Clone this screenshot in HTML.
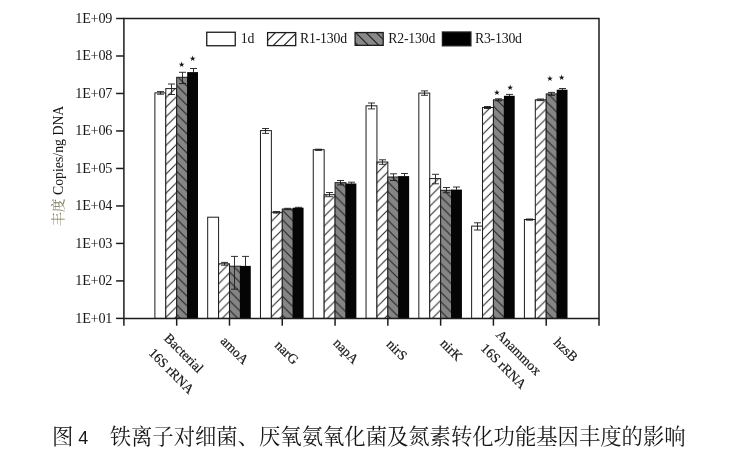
<!DOCTYPE html>
<html lang="zh-CN">
<head>
<meta charset="utf-8">
<title>图 4 铁离子对细菌、厌氧氨氧化菌及氮素转化功能基因丰度的影响</title>
<style>
html,body{margin:0;padding:0;background:#fff;}
body{width:735px;height:452px;overflow:hidden;position:relative;font-family:"Liberation Serif","Noto Serif CJK SC",serif;}
svg{position:absolute;left:0;top:0;display:block;will-change:transform;}
.t{font-family:"Liberation Serif","Noto Serif CJK SC",serif;font-size:13px;fill:#161616;}
.xl{stroke:#161616;stroke-width:0.2px;}
.cap{will-change:transform;position:absolute;left:52px;top:422.2px;height:31px;line-height:31px;font-size:21.33px;color:#161616;white-space:nowrap;font-family:"Liberation Serif","Noto Serif CJK SC",serif;}
.cap .n{font-family:"Liberation Sans","Noto Sans CJK SC",sans-serif;font-size:18px;}
</style>
</head>
<body>
<svg width="735" height="452" viewBox="0 0 735 452">
<defs>
<pattern id="h1" patternUnits="userSpaceOnUse" width="9.55" height="9.55" patternTransform="translate(5.81,0)">
<rect width="9.55" height="9.55" fill="#fff"/>
<path d="M-2,11.55 L11.55,-2 M-2,2 L2,-2 M7.55,11.55 L11.55,7.55" stroke="#2a2a2a" stroke-width="1.1" fill="none"/>
</pattern>
<pattern id="h2" patternUnits="userSpaceOnUse" width="9.55" height="9.55" patternTransform="translate(5.36,0)">
<rect width="9.55" height="9.55" fill="#858585"/>
<path d="M-2,-2 L11.55,11.55 M7.55,-2 L11.55,2 M-2,7.55 L2,11.55" stroke="#242424" stroke-width="1.1" fill="none"/>
</pattern>
</defs>

<rect x="154.89" y="92.90" width="10.90" height="225.50" fill="#fff" stroke="#1c1c1c" stroke-width="1"/>
<rect x="165.79" y="88.60" width="10.90" height="229.80" fill="url(#h1)" stroke="#1c1c1c" stroke-width="1"/>
<rect x="176.69" y="77.30" width="10.90" height="241.10" fill="url(#h2)" stroke="#1c1c1c" stroke-width="1"/>
<rect x="187.19" y="72.10" width="10.80" height="246.30" fill="#050505"/>
<path d="M160.50,91.60 V94.20 M157.00,91.60 H164.00 M157.00,94.20 H164.00" stroke="#1c1c1c" stroke-width="0.9" fill="none"/>
<path d="M171.50,84.00 V94.50 M168.00,84.00 H175.00 M168.00,94.50 H175.00" stroke="#1c1c1c" stroke-width="0.9" fill="none"/>
<path d="M182.50,72.30 V83.60 M179.00,72.30 H186.00 M179.00,83.60 H186.00" stroke="#1c1c1c" stroke-width="0.9" fill="none"/>
<path d="M193.50,68.50 V72.40 M190.00,68.50 H197.00" stroke="#1c1c1c" stroke-width="0.9" fill="none"/>
<rect x="207.68" y="217.20" width="10.90" height="101.20" fill="#fff" stroke="#1c1c1c" stroke-width="1"/>
<rect x="218.58" y="263.80" width="10.90" height="54.60" fill="url(#h1)" stroke="#1c1c1c" stroke-width="1"/>
<rect x="229.48" y="266.20" width="10.90" height="52.20" fill="url(#h2)" stroke="#1c1c1c" stroke-width="1"/>
<rect x="239.98" y="265.90" width="10.80" height="52.50" fill="#050505"/>
<path d="M224.50,262.40 V265.20 M221.00,262.40 H228.00 M221.00,265.20 H228.00" stroke="#1c1c1c" stroke-width="0.9" fill="none"/>
<path d="M234.50,256.40 V289.20 M231.00,256.40 H238.00 M231.00,289.20 H238.00" stroke="#1c1c1c" stroke-width="0.9" fill="none"/>
<path d="M245.50,256.40 V266.20 M242.00,256.40 H249.00" stroke="#1c1c1c" stroke-width="0.9" fill="none"/>
<rect x="260.47" y="130.60" width="10.90" height="187.80" fill="#fff" stroke="#1c1c1c" stroke-width="1"/>
<rect x="271.37" y="212.30" width="10.90" height="106.10" fill="url(#h1)" stroke="#1c1c1c" stroke-width="1"/>
<rect x="282.27" y="209.00" width="10.90" height="109.40" fill="url(#h2)" stroke="#1c1c1c" stroke-width="1"/>
<rect x="292.77" y="207.70" width="10.80" height="110.70" fill="#050505"/>
<path d="M265.50,128.50 V133.40 M262.00,128.50 H269.00 M262.00,133.40 H269.00" stroke="#1c1c1c" stroke-width="0.9" fill="none"/>
<path d="M276.50,211.50 V213.10 M273.00,211.50 H280.00 M273.00,213.10 H280.00" stroke="#1c1c1c" stroke-width="0.9" fill="none"/>
<path d="M287.50,208.30 V209.70 M284.00,208.30 H291.00 M284.00,209.70 H291.00" stroke="#1c1c1c" stroke-width="0.9" fill="none"/>
<path d="M298.50,207.30 V208.00 M295.00,207.30 H302.00" stroke="#1c1c1c" stroke-width="0.9" fill="none"/>
<rect x="313.26" y="149.70" width="10.90" height="168.70" fill="#fff" stroke="#1c1c1c" stroke-width="1"/>
<rect x="324.16" y="194.70" width="10.90" height="123.70" fill="url(#h1)" stroke="#1c1c1c" stroke-width="1"/>
<rect x="335.06" y="182.70" width="10.90" height="135.70" fill="url(#h2)" stroke="#1c1c1c" stroke-width="1"/>
<rect x="345.56" y="183.50" width="10.80" height="134.90" fill="#050505"/>
<path d="M318.50,149.20 V150.40 M315.00,149.20 H322.00 M315.00,150.40 H322.00" stroke="#1c1c1c" stroke-width="0.9" fill="none"/>
<path d="M329.50,192.50 V196.70 M326.00,192.50 H333.00 M326.00,196.70 H333.00" stroke="#1c1c1c" stroke-width="0.9" fill="none"/>
<path d="M340.50,180.50 V184.90 M337.00,180.50 H344.00 M337.00,184.90 H344.00" stroke="#1c1c1c" stroke-width="0.9" fill="none"/>
<path d="M351.50,182.20 V183.80 M348.00,182.20 H355.00" stroke="#1c1c1c" stroke-width="0.9" fill="none"/>
<rect x="366.04" y="105.80" width="10.90" height="212.60" fill="#fff" stroke="#1c1c1c" stroke-width="1"/>
<rect x="376.94" y="162.00" width="10.90" height="156.40" fill="url(#h1)" stroke="#1c1c1c" stroke-width="1"/>
<rect x="387.84" y="177.00" width="10.90" height="141.40" fill="url(#h2)" stroke="#1c1c1c" stroke-width="1"/>
<rect x="398.34" y="176.10" width="10.80" height="142.30" fill="#050505"/>
<path d="M371.50,103.00 V108.90 M368.00,103.00 H375.00 M368.00,108.90 H375.00" stroke="#1c1c1c" stroke-width="0.9" fill="none"/>
<path d="M382.50,159.80 V164.30 M379.00,159.80 H386.00 M379.00,164.30 H386.00" stroke="#1c1c1c" stroke-width="0.9" fill="none"/>
<path d="M393.50,173.80 V180.50 M390.00,173.80 H397.00 M390.00,180.50 H397.00" stroke="#1c1c1c" stroke-width="0.9" fill="none"/>
<path d="M404.50,173.50 V176.40 M401.00,173.50 H408.00" stroke="#1c1c1c" stroke-width="0.9" fill="none"/>
<rect x="418.83" y="93.10" width="10.90" height="225.30" fill="#fff" stroke="#1c1c1c" stroke-width="1"/>
<rect x="429.73" y="178.60" width="10.90" height="139.80" fill="url(#h1)" stroke="#1c1c1c" stroke-width="1"/>
<rect x="440.63" y="190.30" width="10.90" height="128.10" fill="url(#h2)" stroke="#1c1c1c" stroke-width="1"/>
<rect x="451.13" y="189.60" width="10.80" height="128.80" fill="#050505"/>
<path d="M424.50,90.90 V95.30 M421.00,90.90 H428.00 M421.00,95.30 H428.00" stroke="#1c1c1c" stroke-width="0.9" fill="none"/>
<path d="M435.50,174.30 V183.80 M432.00,174.30 H439.00 M432.00,183.80 H439.00" stroke="#1c1c1c" stroke-width="0.9" fill="none"/>
<path d="M446.50,187.50 V192.70 M443.00,187.50 H450.00 M443.00,192.70 H450.00" stroke="#1c1c1c" stroke-width="0.9" fill="none"/>
<path d="M456.50,187.00 V189.90 M453.00,187.00 H460.00" stroke="#1c1c1c" stroke-width="0.9" fill="none"/>
<rect x="471.62" y="226.10" width="10.90" height="92.30" fill="#fff" stroke="#1c1c1c" stroke-width="1"/>
<rect x="482.52" y="107.50" width="10.90" height="210.90" fill="url(#h1)" stroke="#1c1c1c" stroke-width="1"/>
<rect x="493.42" y="99.80" width="10.90" height="218.60" fill="url(#h2)" stroke="#1c1c1c" stroke-width="1"/>
<rect x="503.92" y="95.80" width="10.80" height="222.60" fill="#050505"/>
<path d="M477.50,222.80 V230.00 M474.00,222.80 H481.00 M474.00,230.00 H481.00" stroke="#1c1c1c" stroke-width="0.9" fill="none"/>
<path d="M487.50,106.50 V108.50 M484.00,106.50 H491.00 M484.00,108.50 H491.00" stroke="#1c1c1c" stroke-width="0.9" fill="none"/>
<path d="M498.50,98.80 V100.80 M495.00,98.80 H502.00 M495.00,100.80 H502.00" stroke="#1c1c1c" stroke-width="0.9" fill="none"/>
<path d="M509.50,94.40 V96.10 M506.00,94.40 H513.00" stroke="#1c1c1c" stroke-width="0.9" fill="none"/>
<rect x="524.41" y="219.50" width="10.90" height="98.90" fill="#fff" stroke="#1c1c1c" stroke-width="1"/>
<rect x="535.31" y="99.80" width="10.90" height="218.60" fill="url(#h1)" stroke="#1c1c1c" stroke-width="1"/>
<rect x="546.21" y="93.90" width="10.90" height="224.50" fill="url(#h2)" stroke="#1c1c1c" stroke-width="1"/>
<rect x="556.71" y="89.70" width="10.80" height="228.70" fill="#050505"/>
<path d="M529.50,219.00 V220.20 M526.00,219.00 H533.00 M526.00,220.20 H533.00" stroke="#1c1c1c" stroke-width="0.9" fill="none"/>
<path d="M540.50,99.00 V100.60 M537.00,99.00 H544.00 M537.00,100.60 H544.00" stroke="#1c1c1c" stroke-width="0.9" fill="none"/>
<path d="M551.50,92.40 V95.40 M548.00,92.40 H555.00 M548.00,95.40 H555.00" stroke="#1c1c1c" stroke-width="0.9" fill="none"/>
<path d="M562.50,88.50 V90.00 M559.00,88.50 H566.00" stroke="#1c1c1c" stroke-width="0.9" fill="none"/>
<path d="M123.90,18.50 H599.00 V318.40 H123.90 Z" fill="none" stroke="#1c1c1c" stroke-width="1.5"/>
<path d="M116.10,318.40 H123.90" stroke="#1c1c1c" stroke-width="1.5"/>
<text class="t" x="112.2" y="322.90" text-anchor="end" style="font-size:14.2px;letter-spacing:-0.2px">1E+01</text>
<path d="M116.10,280.91 H123.90" stroke="#1c1c1c" stroke-width="1.5"/>
<text class="t" x="112.2" y="285.41" text-anchor="end" style="font-size:14.2px;letter-spacing:-0.2px">1E+02</text>
<path d="M116.10,243.42 H123.90" stroke="#1c1c1c" stroke-width="1.5"/>
<text class="t" x="112.2" y="247.92" text-anchor="end" style="font-size:14.2px;letter-spacing:-0.2px">1E+03</text>
<path d="M116.10,205.94 H123.90" stroke="#1c1c1c" stroke-width="1.5"/>
<text class="t" x="112.2" y="210.44" text-anchor="end" style="font-size:14.2px;letter-spacing:-0.2px">1E+04</text>
<path d="M116.10,168.45 H123.90" stroke="#1c1c1c" stroke-width="1.5"/>
<text class="t" x="112.2" y="172.95" text-anchor="end" style="font-size:14.2px;letter-spacing:-0.2px">1E+05</text>
<path d="M116.10,130.96 H123.90" stroke="#1c1c1c" stroke-width="1.5"/>
<text class="t" x="112.2" y="135.46" text-anchor="end" style="font-size:14.2px;letter-spacing:-0.2px">1E+06</text>
<path d="M116.10,93.47 H123.90" stroke="#1c1c1c" stroke-width="1.5"/>
<text class="t" x="112.2" y="97.97" text-anchor="end" style="font-size:14.2px;letter-spacing:-0.2px">1E+07</text>
<path d="M116.10,55.99 H123.90" stroke="#1c1c1c" stroke-width="1.5"/>
<text class="t" x="112.2" y="60.49" text-anchor="end" style="font-size:14.2px;letter-spacing:-0.2px">1E+08</text>
<path d="M116.10,18.50 H123.90" stroke="#1c1c1c" stroke-width="1.5"/>
<text class="t" x="112.2" y="23.00" text-anchor="end" style="font-size:14.2px;letter-spacing:-0.2px">1E+09</text>
<path d="M123.90,318.40 V325.70" stroke="#1c1c1c" stroke-width="1.5"/>
<path d="M176.69,318.40 V325.70" stroke="#1c1c1c" stroke-width="1.5"/>
<path d="M229.48,318.40 V325.70" stroke="#1c1c1c" stroke-width="1.5"/>
<path d="M282.27,318.40 V325.70" stroke="#1c1c1c" stroke-width="1.5"/>
<path d="M335.06,318.40 V325.70" stroke="#1c1c1c" stroke-width="1.5"/>
<path d="M387.84,318.40 V325.70" stroke="#1c1c1c" stroke-width="1.5"/>
<path d="M440.63,318.40 V325.70" stroke="#1c1c1c" stroke-width="1.5"/>
<path d="M493.42,318.40 V325.70" stroke="#1c1c1c" stroke-width="1.5"/>
<path d="M546.21,318.40 V325.70" stroke="#1c1c1c" stroke-width="1.5"/>
<path d="M599.00,318.40 V325.70" stroke="#1c1c1c" stroke-width="1.5"/>
<text class="t" transform="translate(63.3,165.85) rotate(-90)" text-anchor="middle" style="font-size:13.8px"><tspan fill="#76744f">丰度</tspan> Copies/ng DNA</text>
<clipPath id="c2"><rect x="267.6" y="32.6" width="28.1" height="13.0"/></clipPath>
<clipPath id="c3"><rect x="355.1" y="32.55" width="28.1" height="12.8"/></clipPath>
<rect x="206.75" y="32.25" width="28.50" height="13.50" fill="#fff" stroke="#1c1c1c" stroke-width="1.3"/>
<text class="t" x="240.70" y="43.4" style="font-size:13.8px;letter-spacing:-0.2px">1d</text>
<rect x="267.60" y="32.60" width="28.10" height="13.00" fill="#fff" stroke="#1c1c1c" stroke-width="1.3"/>
<path d="M244.60,52.75 L269.60,27.75 M255.30,52.75 L280.30,27.75 M266.00,52.75 L291.00,27.75 M276.70,52.75 L301.70,27.75" stroke="#2a2a2a" stroke-width="1.2" fill="none" clip-path="url(#c2)"/>
<text class="t" x="300.00" y="43.4" style="font-size:13.8px;letter-spacing:-0.2px">R1-130d</text>
<rect x="355.10" y="32.55" width="28.10" height="12.80" fill="#898989" stroke="#1c1c1c" stroke-width="1.3"/>
<path d="M340.20,27.55 L365.20,52.55 M350.60,27.55 L375.60,52.55 M361.00,27.55 L386.00,52.55 M371.30,27.55 L396.30,52.55" stroke="#262626" stroke-width="1.2" fill="none" clip-path="url(#c3)"/>
<text class="t" x="388.20" y="43.4" style="font-size:13.8px;letter-spacing:-0.2px">R2-130d</text>
<rect x="442.40" y="32.00" width="28.50" height="13.80" fill="#000" stroke="#1c1c1c" stroke-width="1.3"/>
<text class="t" x="474.90" y="43.4" style="font-size:13.8px;letter-spacing:-0.2px">R3-130d</text>
<text x="181.60" y="67.00" text-anchor="middle" style="font-family:'DejaVu Sans',sans-serif;font-size:7.6px" fill="#111">★</text>
<text x="192.60" y="60.50" text-anchor="middle" style="font-family:'DejaVu Sans',sans-serif;font-size:7.6px" fill="#111">★</text>
<text x="497.00" y="95.20" text-anchor="middle" style="font-family:'DejaVu Sans',sans-serif;font-size:7.6px" fill="#111">★</text>
<text x="510.20" y="90.20" text-anchor="middle" style="font-family:'DejaVu Sans',sans-serif;font-size:7.6px" fill="#111">★</text>
<text x="550.00" y="81.40" text-anchor="middle" style="font-family:'DejaVu Sans',sans-serif;font-size:7.6px" fill="#111">★</text>
<text x="561.60" y="79.90" text-anchor="middle" style="font-family:'DejaVu Sans',sans-serif;font-size:7.6px" fill="#111">★</text>
<text class="t xl" transform="translate(183.80,353.10) rotate(45)" text-anchor="middle" y="4.5" style="font-size:13.6px">Bacterial</text>
<text class="t xl" transform="translate(171.50,371.00) rotate(45)" text-anchor="middle" y="4.5" style="font-size:13.6px">16S rRNA</text>
<text class="t xl" transform="translate(234.70,350.20) rotate(45)" text-anchor="middle" y="4.5" style="font-size:13.6px">amoA</text>
<text class="t xl" transform="translate(286.80,352.40) rotate(45)" text-anchor="middle" y="4.5" style="font-size:13.6px">narG</text>
<text class="t xl" transform="translate(346.00,351.00) rotate(45)" text-anchor="middle" y="4.5" style="font-size:13.6px">napA</text>
<text class="t xl" transform="translate(396.90,349.80) rotate(45)" text-anchor="middle" y="4.5" style="font-size:13.6px">nirS</text>
<text class="t xl" transform="translate(451.40,349.80) rotate(45)" text-anchor="middle" y="4.5" style="font-size:13.6px">nirK</text>
<text class="t xl" transform="translate(518.60,352.60) rotate(45)" text-anchor="middle" y="4.5" style="font-size:13.6px">Anammox</text>
<text class="t xl" transform="translate(503.70,366.20) rotate(45)" text-anchor="middle" y="4.5" style="font-size:13.6px">16S rRNA</text>
<text class="t xl" transform="translate(565.90,349.60) rotate(45)" text-anchor="middle" y="4.5" style="font-size:13.6px">hzsB</text>
</svg>
<div class="cap">图<span class="n"> 4</span>　铁离子对细菌、厌氧氨氧化菌及氮素转化功能基因丰度的影响</div>
</body></html>
